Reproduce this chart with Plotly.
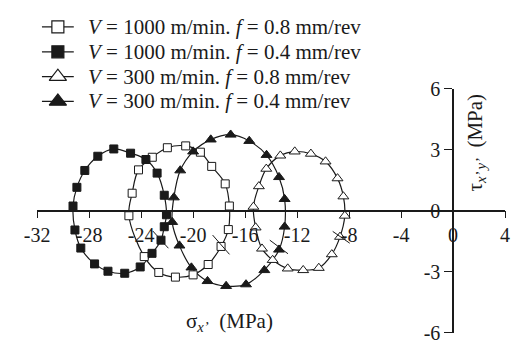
import plotly.graph_objects as go

# ---------------- data ----------------
x_ticks = [-32, -28, -24, -20, -16, -12, -8, -4, 0, 4]
x_ticklabels = ["-32", "-28", "-24", "-20", "-16", "-12", "-8", "-4", "0", "4"]
y_ticks = [-6, -3, 0, 3, 6]
y_ticklabels = ["-6", "-3", "0", "3", "6"]

series_names = [
    "<i>V</i> = 1000 m/min. <i>f</i> = 0.8 mm/rev",
    "<i>V</i> = 1000 m/min. <i>f</i> = 0.4 mm/rev",
    "<i>V</i> = 300 m/min. <i>f</i> = 0.8 mm/rev",
    "<i>V</i> = 300 m/min. <i>f</i> = 0.4 mm/rev",
]

# V=1000, f=0.8 (open squares)
s1_sigma = [-24.94, -24.69, -24.20, -23.14, -21.98, -20.57, -19.44, -18.57, -17.53,
            -17.21, -17.29, -17.85, -18.84, -20.00, -21.36, -22.64, -23.76]
s1_tau = [-0.25, 0.86, 2.01, 2.63, 3.10, 3.19, 2.88, 2.18, 1.32,
          0.23, -0.93, -1.76, -2.65, -3.16, -3.27, -3.04, -2.26]

# V=1000, f=0.4 (filled squares)
s2_sigma = [-29.24, -29.09, -28.64, -27.58, -26.55, -25.26, -24.07, -23.16, -22.47, -22.22,
            -22.05, -22.22, -22.77, -23.63, -24.81, -26.10, -27.33, -28.33, -28.94]
s2_tau = [0.23, -0.95, -1.84, -2.62, -2.98, -3.08, -2.77, -2.10, -1.45, -0.79,
          -0.20, 0.76, 1.85, 2.52, 2.83, 3.04, 2.68, 1.98, 1.15]

# V=300, f=0.8 (open triangles)
s3_sigma = [-15.36, -14.94, -14.37, -13.29, -12.18, -10.94, -9.81, -8.89, -8.44,
            -8.33, -8.70, -9.33, -10.33, -11.53, -12.72, -13.88, -14.70, -15.19]
s3_tau = [0.19, 1.20, 2.06, 2.71, 2.91, 2.80, 2.42, 1.59, 0.70,
          -0.25, -1.29, -2.15, -2.82, -2.93, -2.85, -2.43, -1.87, -0.83]

# V=300, f=0.4 (filled triangles)
s4_sigma = [-21.61, -21.48, -20.99, -20.00, -18.64, -17.11, -15.68, -14.35, -13.39,
            -12.96, -12.96, -13.39, -14.52, -15.93, -17.46, -18.89, -20.13, -21.05]
s4_tau = [-0.56, 0.65, 1.98, 2.91, 3.50, 3.74, 3.43, 2.74, 1.65,
          0.57, -0.79, -1.92, -2.93, -3.63, -3.71, -3.47, -2.80, -1.72]

# short direction marks crossing each circle (start/end)
mark_x0 = [-18.50, -23.10, -9.26, -14.10]
mark_y0 = [-1.20, -1.00, -1.02, -1.45]
mark_x1 = [-17.20, -21.90, -7.95, -12.70]
mark_y1 = [-2.15, -1.85, -1.60, -2.12]

# ---------------- styling ----------------
FONT = "Liberation Serif"
INK = "#1a1a1a"
symbols = ["square", "square", "triangle-up", "triangle-up"]
fills = ["white", INK, "white", INK]
sizes = [8, 8, 9.5, 9.5]
leg_sizes = [12, 12, 15, 15]

W, H = 512, 352
x_px = (25, 510)
y_px = (83, 343)
xdom = [x_px[0] / W, x_px[1] / W]
ydom = [1 - y_px[1] / H, 1 - y_px[0] / H]
# positions of the crossing axes (paper fractions)
ypos = ydom[0] + (0 - (-6)) / 12 * (ydom[1] - ydom[0])
xpos = xdom[0] + (0 - (-32)) / 36 * (xdom[1] - xdom[0])

fig = go.Figure()

series = [(s1_sigma, s1_tau), (s2_sigma, s2_tau), (s3_sigma, s3_tau), (s4_sigma, s4_tau)]
for i, (sx, sy) in enumerate(series):
    fig.add_trace(go.Scatter(
        x=sx + [sx[0]], y=sy + [sy[0]], mode="lines",
        line=dict(color=INK, width=1.2, shape="spline", smoothing=1.0),
        hoverinfo="skip", xaxis="x", yaxis="y"))
for i, (sx, sy) in enumerate(series):
    fig.add_trace(go.Scatter(
        x=sx, y=sy, mode="markers",
        marker=dict(symbol=symbols[i], size=sizes[i], color=fills[i],
                    line=dict(color=INK, width=1)),
        xaxis="x", yaxis="y"))

mx, my = [], []
for a, b, c, d in zip(mark_x0, mark_y0, mark_x1, mark_y1):
    mx += [a, c, None]
    my += [b, d, None]
fig.add_trace(go.Scatter(x=mx, y=my, mode="lines", line=dict(color=INK, width=1),
                         xaxis="x", yaxis="y"))

# ---------------- legend (pixel overlay) ----------------
leg_rows = [17, 43.5, 70, 96.5]
for i, yy in enumerate(leg_rows):
    fig.add_trace(go.Scatter(x=[30, 63], y=[yy, yy], mode="lines",
                             line=dict(color=INK, width=1.2), xaxis="x2", yaxis="y2"))
    fig.add_trace(go.Scatter(x=[46.5], y=[yy], mode="markers",
                             marker=dict(symbol=symbols[i], size=leg_sizes[i], color=fills[i],
                                         line=dict(color=INK, width=1.2)),
                             xaxis="x2", yaxis="y2"))
    fig.add_annotation(x=76, y=yy, xref="x2", yref="y2", text=series_names[i],
                       showarrow=False, xanchor="left", yanchor="middle",
                       font=dict(family=FONT, size=21, color=INK))

# axis titles
fig.add_annotation(x=224, y=332, xref="x2", yref="y2",
                   text="σ<sub><i>x’</i></sub>  (MPa)", showarrow=False,
                   font=dict(family=FONT, size=21, color=INK))
fig.add_annotation(x=480, y=140, xref="x2", yref="y2",
                   text="τ<sub><i>x’ y’</i></sub>  (MPa)", showarrow=False, textangle=-90,
                   font=dict(family=FONT, size=21, color=INK))

fig.update_layout(
    width=W, height=H, margin=dict(l=0, r=0, t=0, b=0),
    paper_bgcolor="white", plot_bgcolor="rgba(0,0,0,0)", showlegend=False,
    xaxis=dict(domain=xdom, range=[-32, 4], anchor="free", position=ypos,
               tickvals=x_ticks, ticktext=x_ticklabels, ticks="outside", ticklen=7,
               tickwidth=1.2, tickcolor=INK, showline=True, linewidth=1.5, linecolor=INK,
               showgrid=False, zeroline=False, ticklabeloverflow="allow",
               tickfont=dict(family=FONT, size=20, color=INK)),
    yaxis=dict(domain=ydom, range=[-6, 6], anchor="free", position=xpos, side="left",
               tickvals=y_ticks, ticktext=y_ticklabels, ticks="outside", ticklen=8,
               tickwidth=1.2, tickcolor=INK, showline=True, linewidth=1.5, linecolor=INK,
               showgrid=False, zeroline=False, ticklabeloverflow="allow",
               tickfont=dict(family=FONT, size=20, color=INK)),
    xaxis2=dict(domain=[0, 1], range=[0, W], anchor="y2", visible=False),
    yaxis2=dict(domain=[0, 1], range=[H, 0], anchor="x2", visible=False),
)

fig.write_html("out.html", config={"displayModeBar": False},
               post_script="document.body.style.margin='0';document.body.style.padding='0';")
